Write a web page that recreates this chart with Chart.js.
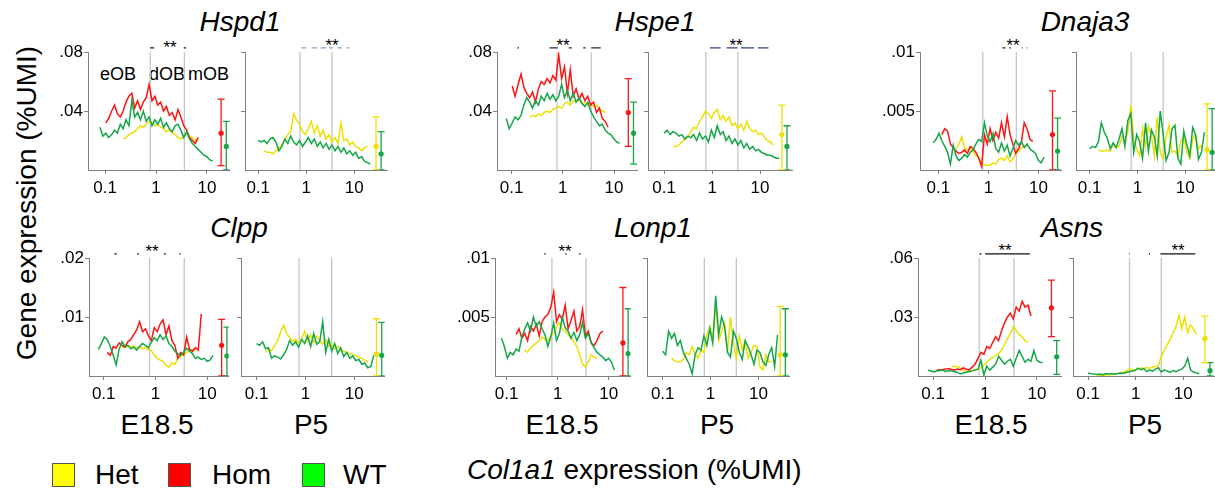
<!DOCTYPE html>
<html>
<head>
<meta charset="utf-8">
<script src="https://cdn.jsdelivr.net/npm/chart.js@4.4.1/dist/chart.umd.min.js"></script>
<style>
body{margin:0;background:#fff;width:1215px;height:490px;overflow:hidden;position:relative;font-family:"Liberation Sans",Arial,sans-serif;color:#000}
canvas{position:absolute}
.t{position:absolute;white-space:nowrap;line-height:1;font-size:28px;transform:translate(-50%,-50%)}
.tl{position:absolute;white-space:nowrap;line-height:1;font-size:28px;transform:translate(0,-50%)}
.it{font-style:italic}
.star{position:absolute;white-space:nowrap;line-height:1;font-size:17px;transform:translate(-50%,0)}
.small{position:absolute;white-space:nowrap;line-height:1;font-size:18px;transform:translate(0,-50%)}
.box{position:absolute;width:21px;height:22px;border:1px solid #555}
</style>
</head>
<body>

<div class="t it" style="left:240px;top:22px">Hspd1</div>
<div class="t it" style="left:655px;top:22px">Hspe1</div>
<div class="t it" style="left:1085px;top:22px">Dnaja3</div>
<div class="t it" style="left:239px;top:228px">Clpp</div>
<div class="t it" style="left:653px;top:228px">Lonp1</div>
<div class="t it" style="left:1072px;top:228px">Asns</div>

<div class="t" style="left:27px;top:203px;transform:translate(-50%,-50%) rotate(-90deg)">Gene expression (%UMI)</div>

<div class="t" style="left:157px;top:425px">E18.5</div>
<div class="t" style="left:311px;top:425px">P5</div>
<div class="t" style="left:562px;top:425px">E18.5</div>
<div class="t" style="left:717px;top:425px">P5</div>
<div class="t" style="left:991px;top:425px">E18.5</div>
<div class="t" style="left:1145px;top:425px">P5</div>

<div class="small" style="left:100px;top:74px">eOB</div>
<div class="small" style="left:149px;top:74px">dOB</div>
<div class="small" style="left:188px;top:74px">mOB</div>

<div class="star" style="left:170px;top:39px">**</div>
<div class="star" style="left:332px;top:37px">**</div>
<div class="star" style="left:563px;top:37px">**</div>
<div class="star" style="left:736px;top:37px">**</div>
<div class="star" style="left:1013px;top:37px">**</div>
<div class="star" style="left:152px;top:243px">**</div>
<div class="star" style="left:565px;top:243px">**</div>
<div class="star" style="left:1005px;top:242px">**</div>
<div class="star" style="left:1178px;top:242px">**</div>

<div class="box" style="left:52px;top:463px;background:#ffff00"></div>
<div class="tl" style="left:95px;top:475px">Het</div>
<div class="box" style="left:168px;top:463px;background:#ff0000"></div>
<div class="tl" style="left:212px;top:475px">Hom</div>
<div class="box" style="left:302px;top:463px;background:#00ff00"></div>
<div class="tl" style="left:343px;top:475px">WT</div>

<div class="tl" style="left:467px;top:470px"><span class="it">Col1a1</span> expression (%UMI)</div>

<script>
var _ = null;

// x positions (Col1a1 %UMI) of the running-mean curves
var xE = [0.079,0.090,0.103,0.117,0.134,0.153,0.174,0.198,0.226,0.257,
          0.293,0.334,0.380,0.434,0.494,0.562,0.641,0.731,0.833,0.949,
          1.08,1.23,1.40,1.60,1.82,2.08,2.37,2.70,3.07,3.50,
          3.99,4.55,5.18,5.90,6.73,7.66,8.73,9.95,11.3,12.9];
var xP = [0.100,0.115,0.133,0.153,0.176,0.203,0.234,0.270,0.311,0.358,
          0.412,0.475,0.547,0.631,0.727,0.838,0.966,1.11,1.28,1.48,
          1.70,1.96,2.26,2.60,3.00,3.45,3.98,4.59,5.28,6.09,
          7.02,8.09,9.31,10.7,12.4,14.3,16.4,18.9,21.8,25.1];

// zone borders eOB | dOB | mOB
var vlinesE = [0.77, 3.6];
var vlinesP = [0.74, 3.45];
// x where the summary error bars sit [mutant, WT]
var errXE = [19, 24];
var errXP = [28.5, 36.5];

// Hspd1
var hspd1E_hom = [_,_,.032,.035,.040,.044,.038,.036,.040,.046, .050,.052,.042,.047,.041,.046,.049,.058,.047,.050, .044,.046,.040,.043,.037,.039,.034,.041,.036,.030, .027,.022,.020,.018,.022,_,_,_,_,_];
var hspd1E_het = [_,_,_,_,_,_,_,_,.021,.022, .024,.025,.026,.028,.030,.029,.031,.033,.032,.030, .031,.029,.028,.026,.027,.025,.024,.022,.021,.023, .025,.023,.022,.020,.021,_,_,_,_,_];
var hspd1E_wt  = [.029,.023,.025,.022,.024,.027,.025,.031,.028,.034, .030,.047,.036,.039,.034,.040,.033,.036,.030,.034, .031,.035,.029,.032,.028,.026,.030,.031,.027,.022, .026,.021,.018,.016,.014,.012,.010,.009,.007,.006];
var hspd1P_het = [_,_,.013,.012,.012,.011,.013,.015,.017,.020, .024,.026,.038,.034,.031,.026,.024,.028,.033,.025, .030,.023,.027,.021,.024,.019,.022,.018,.032,.020, .021,.017,.019,.016,.015,.013,.015,.016,_,_];
var hspd1P_wt  = [.020,.019,.020,.018,.021,.022,.019,.013,.016,.021, .018,.023,.019,.017,.020,.016,.019,.022,.018,.021, .016,.019,.015,.018,.014,.017,.013,.016,.012,.015, .011,.013,.010,.012,.008,.009,.006,.005,.004,_];
var hspd1E_errHom = [.025, .003, .048];
var hspd1E_errWt  = [.016, 0, .033];
var hspd1P_errHet = [.016, 0, .036];
var hspd1P_errWt  = [.011, 0, .026];
var hspd1E_sig = [[0.76,0.92],[3.5,3.9]];
var hspd1P_sig = [[0.8,1.0],[1.3,1.7],[2.0,2.6],[3.0,3.6],[4.5,5.5],[7,8]];

// Hspe1
var hspe1E_hom = [_,_,.057,.050,.058,.065,.056,.052,.049,.053, .046,.055,.060,.058,.062,.059,.064,.061,.078,.062, .070,.052,.068,.050,.055,.048,.052,.047,.050,.044, .046,.039,.042,.035,.033,.029,_,_,_,_];
var hspe1E_het = [_,_,_,_,_,_,_,_,.036,.037, .036,.038,.037,.039,.040,.039,.041,.042,.043,.042, .045,.046,.044,.047,.046,.048,.045,.046,.044,.045, .043,.044,.041,.040,.039,_,_,_,_,_];
var hspe1E_wt  = [.035,.028,.032,.036,.034,.037,.044,.049,.046,.042, .047,.044,.050,.047,.052,.048,.051,.047,.050,.058, .049,.054,.047,.052,.046,.049,.045,.043,.046,.040, .036,.033,.030,.031,.027,.025,.024,.021,.019,.018];
var hspe1P_het = [_,_,_,.016,.016,.017,.019,.021,.022,.026, .029,.028,.033,.036,.040,.038,.035,.039,.041,.034, .037,.033,.036,.030,.032,.028,.031,.027,.033,.028, .026,.027,.024,.025,.022,.020,.019,.017,_,_];
var hspe1P_wt  = [.025,.027,.024,.026,.025,.023,.024,.021,.023,.022, .024,.020,.025,.021,.023,.019,.027,.022,.030,.024, .026,.020,.023,.018,.021,.017,.020,.015,.018,.014, .016,.013,.014,.012,.011,.010,.010,.009,.008,.008];
var hspe1E_errHom = [.039, .016, .062];
var hspe1E_errWt  = [.025, .004, .046];
var hspe1P_errHet = [.024, 0, .044];
var hspe1P_errWt  = [.016, 0, .030];
var hspe1E_sig = [[0.13,0.14],[0.55,0.8],[1.3,1.5],[2.5,2.8],[3.6,5.5]];
var hspe1P_sig = [[0.9,1.5],[2.0,3.4],[4.0,7.5],[9,15]];

// Dnaja3
var dnaja3E_hom = [_,_,_,.0030,.0035,.0033,.0022,.0019,.0016,.0014, .0015,.0017,.0014,.0020,.0018,.0015,.0010,.0003,.0030,.0022, .0035,.0025,.0032,.0027,.0040,.0028,.0045,.0030,.0022,.0014, .0018,.0024,.0040,.0035,.0026,.0024,_,_,_,_];
var dnaja3E_het = [_,_,_,_,_,_,_,_,.0018,.0022, .0028,.0019,.0017,.0018,.0016,.0012,.0011,.0005,.0004,.0004, .0004,.0006,.0005,.0009,.0010,.0008,.0012,.0007,.0009,.0014, .0016,.0019,.0020,.0021,_,_,_,_,_,_];
var dnaja3E_wt  = [.0023,.0026,.0031,.0025,.0020,.0015,.0005,.0021,.0012,.0008, .0010,.0013,.0011,.0015,.0017,.0022,.0026,.0024,.0040,.0029, .0024,.0031,.0018,.0015,.0023,.0016,.0021,.0012,.0018,.0025, .0021,.0024,.0019,.0022,.0018,.0016,.0014,.0008,.0006,.0011];
var dnaja3P_het = [_,_,_,.0017,.0016,.0016,.0017,.0016,.0022,.0019, .0020,.0028,.0025,.0032,.0055,.0025,.0018,.0012,.0035,.0020, .0037,.0030,.0012,.0045,.0015,.0010,.0028,.0038,.0015,.0016, .0012,.0025,.0028,.0015,.0010,.0026,.0030,.0018,.0021,_];
var dnaja3P_wt  = [.0018,.0020,.0019,.0024,.0040,.0032,.0027,.0018,.0023,.0019, .0026,.0035,.0020,.0042,.0048,.0015,.0030,.0024,.0010,.0040, .0016,.0034,.0028,.0012,.0050,.0030,.0008,.0015,.0035,.0038, .0010,.0005,.0033,.0022,.0012,.0036,.0030,.0009,.0015,.0032];
var dnaja3E_errHom = [.0030, 0, .0067];
var dnaja3E_errWt  = [.0016, 0, .0044];
var dnaja3P_errHet = [.0017, 0, .0056];
var dnaja3P_errWt  = [.0015, 0, .0052];
var dnaja3E_sig = [[1.9,2.2],[2.6,2.8],[4.6,4.8],[5.8,6.0]];

// Clpp
var clppE_hom = [_,_,_,.0040,.0035,.0050,.0047,.0056,.0052,.0049, .0058,.0062,.0070,.0078,.0092,.0075,.0080,.0068,.0060,.0082, .0075,.0088,.0095,.0070,.0085,.0060,.0052,.0030,.0040,.0036, .0066,.0045,.0042,.0048,.0044,.0105,_,_,_,_];
var clppE_het = [_,_,_,_,_,_,_,_,.0050,.0048, .0052,.0049,.0051,.0047,.0050,.0046,.0048,.0045,.0043,.0035, .0030,.0027,.0025,.0018,.0015,.0022,.0020,.0030,.0033,.0036, .0040,.0044,.0045,.0042,_,_,_,_,_,_];
var clppE_wt  = [.0045,.0055,.0066,.0062,.0050,.0035,.0019,.0045,.0058,.0050, .0052,.0046,.0049,.0044,.0050,.0055,.0052,.0048,.0057,.0065, .0060,.0070,.0062,.0068,.0055,.0050,.0042,.0038,.0035,.0040, .0047,.0042,.0038,.0030,.0032,.0028,.0030,.0025,.0027,.0035];
var clppP_het = [_,_,_,.0040,.0045,.0043,.0052,.0060,.0075,.0086, .0072,.0065,.0058,.0062,.0055,.0064,.0076,.0058,.0070,.0056, .0068,.0060,.0054,.0062,.0050,.0055,.0046,.0050,.0044,.0042, .0040,.0038,.0036,.0035,.0032,.0030,.0027,.0024,_,_];
var clppP_wt  = [.0055,.0052,.0058,.0046,.0048,.0030,.0034,.0032,.0029,.0036, .0045,.0060,.0052,.0058,.0049,.0062,.0055,.0068,.0050,.0072, .0054,.0058,.0092,.0040,.0062,.0042,.0055,.0038,.0048,.0033, .0040,.0030,.0034,.0026,.0028,.0020,.0022,.0014,.0016,.0035];
var clppE_errHom = [.0052, 0, .0096];
var clppE_errWt  = [.0034, 0, .0083];
var clppP_errHet = [.0037, 0, .0097];
var clppP_errWt  = [.0035, 0, .0091];
var clppE_sig = [[0.16,0.18],[0.44,0.48],[1.45,1.6],[2.9,3.1]];

// Lonp1
var lonp1E_hom = [_,_,_,_,_,.0035,.0040,.0032,.0036,.0030, .0042,.0038,.0044,.0034,.0046,.0050,.0052,.0058,.0071,.0046, .0052,.0048,.0060,.0040,.0047,.0055,.0038,.0042,.0056,.0034, .0038,.0028,.0026,.0030,.0036,.0038,_,_,_,_];
var lonp1E_het = [_,_,_,_,_,_,_,_,.0022,.0020, .0024,.0026,.0028,.0030,.0033,.0031,.0030,.0034,.0036,.0042, .0045,.0040,.0038,.0035,.0033,.0029,.0025,.0018,.0010,.0008, .0012,.0018,.0016,.0015,_,_,_,_,_,_];
var lonp1E_wt  = [.0032,.0025,.0015,.0020,.0018,.0023,.0021,.0033,.0040,.0045, .0038,.0050,.0042,.0046,.0040,.0035,.0025,.0033,.0045,.0030, .0036,.0050,.0041,.0038,.0032,.0037,.0030,.0035,.0045,.0032, .0036,.0028,.0024,.0020,.0018,.0016,.0013,.0015,.0012,.0005];
var lonp1P_het = [_,_,_,.0015,.0013,.0012,.0012,.0014,.0020,.0018, .0025,.0019,.0015,.0022,.0020,.0035,.0042,.0030,.0060,.0030, .0038,.0045,.0020,.0050,.0028,.0015,.0034,.0022,.0030,.0015, .0020,.0026,.0025,.0008,.0005,.0018,.0012,.0012,_,_];
var lonp1P_wt  = [.0021,.0018,.0038,.0032,.0036,.0026,.0030,.0020,.0015,.0010, .0002,.0018,.0024,.0022,.0034,.0026,.0040,.0028,.0068,.0035, .0050,.0042,.0020,.0016,.0038,.0032,.0020,.0014,.0030,.0025, .0018,.0010,.0022,.0020,.0012,.0009,.0018,.0024,.0008,.0035];
var lonp1E_errHom = [.0028, 0, .0075];
var lonp1E_errWt  = [.0019, 0, .0057];
var lonp1P_errHet = [.0018, 0, .0059];
var lonp1P_errWt  = [.0018, 0, .0057];
var lonp1E_sig = [[0.54,0.58],[1.4,1.5],[2.6,2.8]];

// Asns
var asnsE_hom = [_,_,_,.0030,.0032,.0033,.0035,.0038,.0033,.0030, .0036,.0032,.0041,.0035,.0030,.0045,.0060,.0090,.0120,.0110, .0150,.0140,.0170,.0200,.0180,.0230,.0270,.0300,.0320,.0290, .0350,.0330,.0380,.0350,.0360,.0305,_,_,_,_];
var asnsE_het = [_,_,_,_,_,_,_,_,.0048,.0050, .0047,.0040,.0030,.0022,.0025,.0028,.0032,.0035,.0040,.0055, .0070,.0085,.0095,.0105,.0115,.0130,.0160,.0190,.0215,.0250, .0230,.0210,.0200,.0180,.0170,_,_,_,_,_];
var asnsE_wt  = [.0030,.0025,.0020,.0025,.0028,.0030,.0022,.0028,.0026,.0022, .0018,.0010,.0015,.0019,.0022,.0026,.0030,.0035,.0080,.0005, .0050,.0030,.0045,.0060,.0100,.0080,.0060,.0075,.0085,.0050, .0090,.0130,.0100,.0070,.0085,.0075,.0130,.0080,.0070,.0068];
var asnsP_het = [_,_,_,.0005,.0004,.0003,.0005,.0006,.0008,.0010, .0012,.0015,.0020,.0025,.0035,.0032,.0030,.0035,.0040,.0038, .0042,.0040,.0045,.0048,.0055,.0100,.0130,.0160,.0185,.0220, .0250,.0310,.0240,.0300,.0220,.0260,.0240,.0210,_,_];
var asnsP_wt  = [.0015,.0012,.0010,.0008,.0010,.0007,.0012,.0010,.0013,.0009, .0011,.0015,.0013,.0018,.0022,.0025,.0028,.0040,.0032,.0038, .0022,.0030,.0025,.0035,.0042,.0020,.0030,.0025,.0018,.0028, .0022,.0030,.0035,.0050,.0090,.0030,.0020,.0015,.0012,_];
var asnsE_errHom = [.0347, .020, .0487];
var asnsE_errWt  = [.0098, .0008, .018];
var asnsP_errHet = [.019, .0068, .0304];
var asnsP_errWt  = [.0027, 0, .0068];
var asnsE_sig = [[0.78,0.85],[1.0,7.3]];
var asnsP_sig = [[0.72,0.745],[1.9,2.0],[3.3,18]];

var GREEN = '#16a64a', RED = '#ff1414', YELLOW = '#ece100', GRAY = '#c6c6c6', AXIS = '#808080';

var panels = [
  {stage:'E', left:88,   right:230,  top:52,  bottom:170, xmin:0.046, xmax:28, ymax:0.08,  het:hspd1E_het, hom:hspd1E_hom, wt:hspd1E_wt, errMut:hspd1E_errHom, errWt:hspd1E_errWt, sig:hspd1E_sig, sigColor:'#222'},
  {stage:'P', left:245,  right:388,  top:52,  bottom:170, xmin:0.053, xmax:50, ymax:0.08,  het:hspd1P_het, wt:hspd1P_wt, errMut:hspd1P_errHet, errWt:hspd1P_errWt, sig:hspd1P_sig, sigColor:'#8fa0d0'},
  {stage:'E', left:497,  right:638,  top:52,  bottom:170, xmin:0.052, xmax:29, ymax:0.08,  het:hspe1E_het, hom:hspe1E_hom, wt:hspe1E_wt, errMut:hspe1E_errHom, errWt:hspe1E_errWt, sig:hspe1E_sig, sigColor:'#333'},
  {stage:'P', left:648,  right:793,  top:52,  bottom:170, xmin:0.046, xmax:48, ymax:0.08,  het:hspe1P_het, wt:hspe1P_wt, errMut:hspe1P_errHet, errWt:hspe1P_errWt, sig:hspe1P_sig, sigColor:'#3a4a8a'},
  {stage:'E', left:920,  right:1062, top:52,  bottom:170, xmin:0.043, xmax:29, ymax:0.01,  het:dnaja3E_het, hom:dnaja3E_hom, wt:dnaja3E_wt, errMut:dnaja3E_errHom, errWt:dnaja3E_errWt, sig:dnaja3E_sig, sigColor:'#333'},
  {stage:'P', left:1076, right:1219, top:52,  bottom:170, xmin:0.052, xmax:50, ymax:0.01,  het:dnaja3P_het, wt:dnaja3P_wt, errMut:dnaja3P_errHet, errWt:dnaja3P_errWt},
  {stage:'E', left:89,   right:229,  top:258, bottom:376, xmin:0.052, xmax:26, ymax:0.02,  het:clppE_het, hom:clppE_hom, wt:clppE_wt, errMut:clppE_errHom, errWt:clppE_errWt, sig:clppE_sig, sigColor:'#333'},
  {stage:'P', left:241,  right:385,  top:258, bottom:376, xmin:0.048, xmax:42, ymax:0.02,  het:clppP_het, wt:clppP_wt, errMut:clppP_errHet, errWt:clppP_errWt},
  {stage:'E', left:495,  right:631,  top:258, bottom:376, xmin:0.059, xmax:27, ymax:0.01,  het:lonp1E_het, hom:lonp1E_hom, wt:lonp1E_wt, errMut:lonp1E_errHom, errWt:lonp1E_errWt, sig:lonp1E_sig, sigColor:'#333'},
  {stage:'P', left:647,  right:790,  top:258, bottom:376, xmin:0.047, xmax:45, ymax:0.01,  het:lonp1P_het, wt:lonp1P_wt, errMut:lonp1P_errHet, errWt:lonp1P_errWt},
  {stage:'E', left:918,  right:1062, top:258, bottom:376, xmin:0.051, xmax:30, ymax:0.06,  het:asnsE_het, hom:asnsE_hom, wt:asnsE_wt, errMut:asnsE_errHom, errWt:asnsE_errWt, sig:asnsE_sig, sigColor:'#111'},
  {stage:'P', left:1073, right:1218, top:258, bottom:376, xmin:0.048, xmax:53, ymax:0.06,  het:asnsP_het, wt:asnsP_wt, errMut:asnsP_errHet, errWt:asnsP_errWt, sig:asnsP_sig, sigColor:'#111'}
];

function pts(xs, ys) {
  var d = [];
  for (var i = 0; i < xs.length; i++) {
    if (ys[i] !== null) d.push({x: xs[i], y: ys[i]});
  }
  return d;
}

function curve(xs, ys, color, order) {
  return {data: pts(xs, ys), borderColor: color, borderWidth: 1.5, pointRadius: 0, order: order};
}

function errBar(x, e, color) {
  return {data: [{x: x, y: e[1]}, {x: x, y: e[2]}], borderColor: color, borderWidth: 1.3,
          pointStyle: 'line', pointRadius: 3.5, pointBorderColor: color, pointBorderWidth: 1.3, order: 0};
}

function errMean(x, e, color) {
  return {data: [{x: x, y: e[0]}], showLine: false, pointRadius: 2.6, pointBackgroundColor: color,
          pointBorderColor: color, pointBorderWidth: 0, order: 0};
}

var tickFont = {family: '"Liberation Sans", Arial, sans-serif', size: 17};

panels.forEach(function (p) {
  var isE = p.stage === 'E';
  var xs = isE ? xE : xP;
  var vl = isE ? vlinesE : vlinesP;
  var ex = isE ? errXE : errXP;
  var mutColor = isE ? RED : YELLOW;

  var ds = [];
  vl.forEach(function (v) {
    ds.push({data: [{x: v, y: 0}, {x: v, y: p.ymax}], borderColor: GRAY, borderWidth: 1.3, pointRadius: 0, order: 9});
  });
  if (p.het) ds.push(curve(xs, p.het, YELLOW, 3));
  if (p.hom) ds.push(curve(xs, p.hom, RED, 2));
  ds.push(curve(xs, p.wt, GREEN, 1));
  ds.push(errBar(ex[0], p.errMut, mutColor));
  ds.push(errMean(ex[0], p.errMut, mutColor));
  ds.push(errBar(ex[1], p.errWt, GREEN));
  ds.push(errMean(ex[1], p.errWt, GREEN));
  (p.sig || []).forEach(function (s) {
    ds.push({data: [{x: s[0], y: p.ymax * 1.035}, {x: s[1], y: p.ymax * 1.035}], borderColor: p.sigColor,
             borderWidth: 1.3, pointRadius: 0, clip: false, order: 0});
  });

  var c = document.createElement('canvas');
  c.width = p.right - p.left + 50;
  c.height = p.bottom - p.top + 55;
  c.style.left = (p.left - 45) + 'px';
  c.style.top = (p.top - 25) + 'px';
  document.body.appendChild(c);

  new Chart(c.getContext('2d'), {
    type: 'line',
    data: {datasets: ds},
    options: {
      responsive: false,
      animation: false,
      events: [],
      layout: {padding: {top: 25, right: 5, left: 0, bottom: 0}},
      plugins: {legend: {display: false}, tooltip: {enabled: false}},
      scales: {
        x: {
          type: 'logarithmic', min: p.xmin, max: p.xmax,
          afterBuildTicks: function (s) { s.ticks = [{value: 0.1}, {value: 1}, {value: 10}]; },
          afterFit: function (s) { s.height = 30; },
          grid: {drawOnChartArea: false, tickLength: 4, color: AXIS},
          border: {color: AXIS, width: 1},
          ticks: {font: tickFont, color: '#000', padding: 4, autoSkip: false, maxRotation: 0,
                  callback: function (v) { return String(v); }}
        },
        y: {
          min: 0, max: p.ymax,
          afterBuildTicks: function (s) { s.ticks = [{value: p.ymax / 2}, {value: p.ymax}]; },
          afterFit: function (s) { s.width = 45; },
          grid: {drawOnChartArea: false, tickLength: 4, color: AXIS},
          border: {color: AXIS, width: 1},
          ticks: {font: tickFont, color: '#000', padding: 1,
                  callback: function (v) { return isE ? String(+v.toFixed(4)).replace(/^0/, '') : ''; }}
        }
      }
    }
  });
});
</script>
</body>
</html>
